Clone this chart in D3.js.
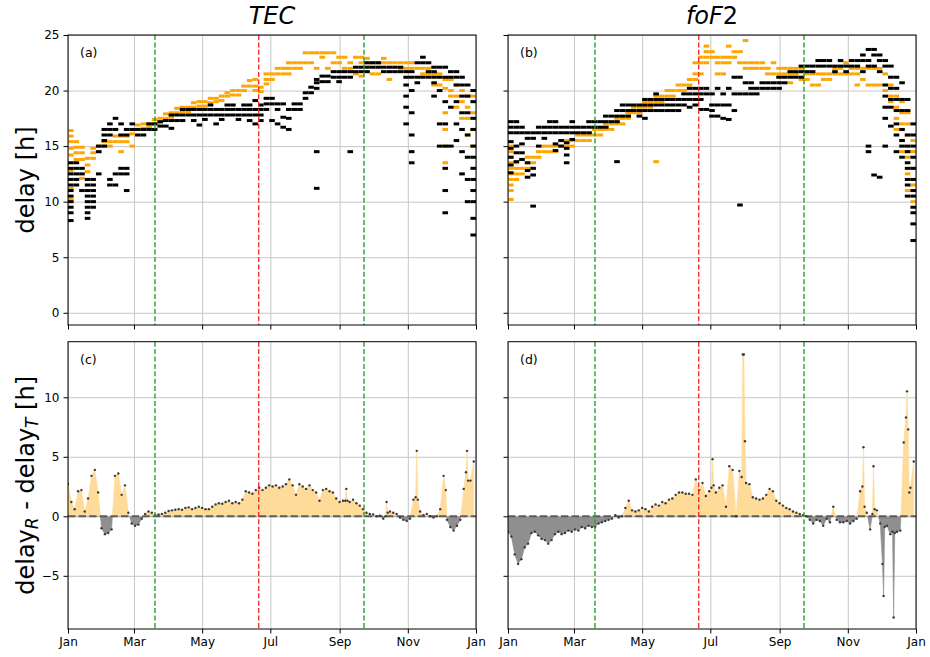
<!DOCTYPE html>
<html>
<head>
<meta charset="utf-8">
<script src="https://cdn.jsdelivr.net/npm/d3@7"></script>
<style>
  body { margin: 0; background: #fff; }
  svg { font-family: "DejaVu Sans", sans-serif; }
</style>
</head>
<body>
<svg id="chart"></svg>
<script>
// day of year grids: top panels in 5-day blocks, bottom panels every 3 days
const blockStep = 5
const diffStep = 3

const monthTickDays = [0, 59, 120, 181, 243, 304, 365]
const monthLabels = ['Jan', 'Mar', 'May', 'Jul', 'Sep', 'Nov', 'Jan']
const delayTicks = [0, 5, 10, 15, 20, 25]
const diffTicks = [-5, 0, 5, 10]
const equinoxDays = [77.8, 264.8]
const solsticeDays = [170.6]
const panelTitles = ['TEC', 'foF2']
const panelLetters = ['(a)', '(b)', '(c)', '(d)']

// delay values per 5-day block (orange = R, black = T)
const tecOrange = [
  [16.4, 15.9, 15.4, 14.8, 14.2, 13.5, 12.8, 12.0, 11.2, 10.2], [15.4, 14.9, 14.4, 13.8], [14.9, 14.4, 13.8, 12.1], [13.9, 13.3, 12.7], [14.4, 13.9, 14.8],
  [15.0, 14.5], [15.4, 15.0], [15.4, 15.0], [15.9, 15.4], [15.9, 15.4, 14.5],
  [15.9, 15.4], [16.5, 16.1, 15.0], [16.9, 16.5], [17.0, 16.6], [17.0, 16.7],
  [17.4, 17.0], [17.5, 17.1], [17.9, 17.5], [18.0, 17.6], [18.4, 18.0],
  [18.5, 18.1], [18.5, 18.1], [18.9, 18.5], [19.0, 18.6], [19.0, 18.6],
  [19.3, 18.9], [19.3, 19.0], [19.5, 19.1], [19.8, 19.5], [20.0, 19.6],
  [20.0, 19.6], [20.4, 20.0], [20.9, 20.4], [21.0, 20.4, 20.0], [20.3, 19.9],
  [21.5, 21.0, 20.6], [21.5, 21.0], [22.0, 21.5], [22.0, 21.5], [22.5, 22.0, 21.5],
  [22.5, 22.0], [22.5, 22.0], [23.4, 22.5], [23.4, 22.5], [23.4, 22.0],
  [23.4, 23.0], [23.4, 22.0], [23.4, 22.5], [23.0, 22.5], [23.0, 22.0],
  [22.5, 22.0], [23.0, 21.5], [23.0, 22.5, 21.3], [22.9, 22.5], [22.5, 21.5],
  [22.5, 21.5], [22.9, 22.5], [22.5, 21.0], [22.5], [22.5, 22.0],
  [22.5, 22.0], [22.5, 22.0], [22.0], [22.0, 21.5], [22.0, 21.5],
  [21.5, 20.5], [21.5, 20.5], [21.0, 20.2, 18.0, 16.5, 15.0, 13.5], [21.0, 20.0, 19.5], [20.5, 19.5, 18.5],
  [20.0, 19.0, 17.5], [19.5, 18.5, 17.5, 16.0], [19.5, 18.0, 16.5, 15.0]
]
const tecBlack = [
  [13.5, 13.0, 12.5, 12.0, 11.5, 11.0, 10.5, 10.0, 9.5, 9.0, 8.3], [13.5, 13.0, 12.5, 12.0, 11.5], [13.0, 12.5, 11.0], [12.0, 11.5, 11.0, 10.5, 10.0, 9.5, 9.0, 8.5], [12.0, 11.5, 11.0, 10.5, 10.0, 9.5],
  [15.0, 14.5, 12.5], [16.5, 16.0, 15.5, 15.0], [17.0, 16.5, 16.0, 12.0, 11.5], [17.5, 16.5, 12.5, 11.5], [17.0, 16.0, 13.0, 12.5],
  [16.5, 16.0, 13.0, 12.5, 11.0], [17.0, 16.5], [16.5, 16.0], [16.5, 16.0], [17.0, 16.5],
  [17.0, 16.5], [17.2, 16.8], [17.3, 16.8], [17.8, 17.3, 16.6], [17.8, 17.3],
  [18.3, 17.8, 17.3], [18.3, 17.8], [18.3, 17.8, 17.3], [18.3, 17.8, 16.9], [18.3, 17.8, 17.4],
  [18.7, 18.3, 17.8], [18.3, 17.8, 17.0], [18.3, 17.8, 17.4], [18.7, 18.3, 17.8], [18.7, 18.3, 17.8],
  [18.3, 17.8, 17.4], [18.7, 18.3, 17.8], [18.7, 18.3, 17.8, 17.3], [19.1, 18.3, 17.8, 17.0], [18.7, 18.3, 17.8, 17.3],
  [19.3, 18.8, 18.3], [19.3, 18.8, 17.3], [18.8, 18.3, 17.0], [18.8, 17.6, 16.7], [18.3, 17.5, 16.5],
  [18.8, 18.3], [18.8, 18.3], [19.8, 19.3], [20.3, 19.8], [21.0, 20.7, 20.2, 14.5, 11.2],
  [21.3, 20.8], [21.3, 20.8], [21.7, 21.2], [21.7, 21.2, 20.8], [21.7, 21.2],
  [21.7, 21.2, 14.5], [22.1, 21.7], [22.1, 21.7], [22.5, 22.1, 21.7], [22.5, 22.1],
  [22.5, 22.1], [22.1, 21.7], [22.1, 21.7], [22.1, 21.7], [22.1, 21.7],
  [21.7, 21.2, 20.5, 19.5, 18.5, 17.0], [21.7, 21.2, 20.0, 18.0, 16.0, 14.5, 13.5], [22.5, 21.2, 20.7], [23.0, 22.5, 21.2], [22.5, 21.7, 21.2],
  [22.1, 21.7, 21.2, 20.7, 19.5], [22.1, 21.2, 20.0, 17.0, 15.0], [22.1, 21.2, 19.0, 17.0, 15.0, 13.0, 11.0, 9.0], [21.7, 21.2, 18.5, 15.0], [21.7, 21.2, 20.5, 19.0, 17.0, 15.5],
  [21.2, 20.5, 19.5, 18.0, 16.5, 14.5, 12.5], [20.5, 19.5, 18.0, 16.0, 14.0, 12.0, 10.0], [20.0, 19.0, 17.5, 16.5, 15.0, 14.0, 13.0, 12.0, 11.0, 10.0, 8.5, 7.0]
]
const fofOrange = [
  [15.0, 14.5, 14.0, 13.5, 13.0, 12.5, 12.0, 11.5, 11.0, 10.2], [13.5, 13.0, 12.5, 12.0], [13.0, 12.5], [14.0, 13.5, 13.0], [14.0, 13.5],
  [14.5, 14.0], [15.0, 14.5], [15.0, 14.5], [15.0, 14.5], [15.5, 15.0],
  [15.5, 15.0], [15.5, 15.0], [16.0, 15.5], [16.0, 15.5], [16.0, 15.5],
  [16.5, 16.0], [16.5, 16.0], [17.0, 16.5], [17.0, 16.5], [17.5, 17.0],
  [17.5, 17.0], [18.0, 17.5], [18.5, 18.0], [18.5, 18.0], [19.0, 18.5],
  [19.0, 18.5], [19.5, 19.0, 13.6], [19.5, 19.0], [20.0, 19.5], [20.0, 19.5],
  [20.5, 20.0], [20.5, 20.0], [21.0, 20.5], [22.5, 21.5, 21.0], [23.0, 22.5, 21.5],
  [24.0, 23.5, 23.0, 22.5], [23.5, 23.0], [23.0, 22.5, 21.5], [23.0, 22.5, 21.5], [24.0, 23.0, 22.5],
  [23.5, 23.0], [23.5, 22.5], [24.5, 22.5, 22.0], [22.5, 22.0], [22.5, 22.0],
  [22.5, 22.0], [22.0, 21.5], [22.5, 21.5], [22.0, 21.5], [22.0, 21.5],
  [22.0, 21.5, 20.7], [22.0, 21.5], [22.0, 21.0], [21.5, 21.0], [21.5, 20.5],
  [21.5, 20.5], [21.5, 21.0], [21.5, 21.0], [22.0, 21.5], [22.0, 21.5],
  [22.5, 21.5], [22.0, 21.5], [22.0, 21.5, 20.5], [22.0, 21.0], [22.0, 20.5],
  [22.0, 20.5], [22.0, 20.5], [21.5, 20.0], [20.5, 19.5, 19.0], [19.5, 18.5, 17.5, 16.5],
  [19.0, 18.0, 17.0, 15.5, 14.5], [18.0, 17.0, 16.0, 14.5, 14.0, 12.5, 11.0], [15.5, 14.5, 13.0, 12.0, 11.5, 10.0]
]
const fofBlack = [
  [17.2, 16.7, 16.2, 15.4, 14.8, 14.0, 13.3, 12.6], [17.2, 16.7, 16.2, 15.0, 14.4, 13.6], [16.7, 16.2, 15.2, 14.4, 13.8], [16.2, 15.7, 13.5, 12.8, 12.2], [16.2, 15.7, 13.0, 12.4, 9.6],
  [16.7, 16.2, 15.0], [16.7, 16.2, 15.7], [17.2, 16.7, 16.2], [17.2, 16.7, 16.2, 15.2, 14.6], [16.7, 16.2, 15.5, 15.0],
  [16.7, 16.2, 15.3, 14.8, 14.2, 13.5], [17.2, 16.7, 16.2, 15.6], [16.7, 16.2], [16.7, 16.2], [17.2, 16.7, 16.2],
  [17.2, 16.7], [17.2, 16.7], [17.7, 17.2, 16.7], [17.7, 17.2], [18.2, 17.7, 17.2, 13.6],
  [18.7, 18.2, 17.7], [18.7, 18.2, 17.7], [18.7, 18.2], [18.7, 18.2, 17.7], [19.2, 18.7, 18.2, 17.5],
  [19.2, 18.7, 18.2], [19.7, 19.2, 18.7, 18.2], [19.2, 18.7, 18.2], [19.2, 18.7, 18.2], [19.2, 18.7, 18.2],
  [19.2, 18.7, 18.2], [19.7, 19.2, 18.7], [20.2, 19.7, 19.2, 18.5], [20.2, 19.7, 19.2, 18.7], [20.2, 19.7, 19.2, 18.3],
  [20.2, 19.7, 18.3], [19.7, 18.7, 18.2, 17.7], [20.2, 18.7, 17.7], [19.7, 18.7, 17.5], [20.2, 18.7, 17.4],
  [21.2, 19.7, 18.2], [21.2, 19.7, 9.7], [20.7, 19.7], [20.7, 20.2, 19.7], [20.2, 19.7],
  [20.7, 20.2], [20.7, 20.2], [20.7, 20.2], [21.2, 20.7, 20.2], [21.2, 20.7],
  [21.7, 21.2], [21.7, 21.2], [22.2, 21.7, 21.2], [22.2, 21.7], [22.2, 21.7],
  [22.7, 22.2], [22.7, 22.2], [22.7, 22.2], [22.2, 21.7], [22.7, 22.2],
  [22.2, 21.7], [22.7, 22.2], [22.7, 22.2], [23.2, 22.7, 21.7], [23.7, 22.7, 22.2, 15.0, 14.5],
  [23.7, 23.2, 22.2, 12.4], [23.2, 22.7, 21.7, 12.2], [22.7, 22.2, 20.5, 19.5, 18.5, 17.5, 15.0], [22.2, 21.2, 20.2, 19.2, 18.5, 16.8], [21.2, 20.2, 19.2, 18.2, 17.0, 16.0, 14.5],
  [20.7, 19.2, 18.2, 16.5, 15.5, 15.0, 14.0], [19.2, 18.2, 16.0, 15.0, 14.5, 13.5, 13.0, 12.0, 11.5, 10.5], [17.0, 16.0, 15.0, 14.0, 13.0, 12.0, 11.0, 10.5, 9.5, 9.0, 8.0, 6.5]
]

// delay_R - delay_T, every 3 days
const tecDiff = [
  2.7, 1.2, 0.6, 2.1, 2.2, 0.4, 1.5, 3.4, 3.9, 2.0,
  -1.0, -1.5, -1.4, -1.1, 3.4, 3.6, 1.8, 2.6, 0.3, -0.6,
  -0.8, -0.7, -0.2, 0.2, 0.4, 0.3, 0.1, 0.15, 0.2, 0.3,
  0.45, 0.5, 0.55, 0.6, 0.55, 0.7, 0.75, 0.6, 0.7, 0.8,
  0.7, 0.6, 0.6, 0.8, 1.0, 1.1, 1.05, 1.2, 1.3, 1.1,
  1.2, 1.1, 1.4, 2.1, 2.0, 1.9, 2.2, 2.4, 2.2, 2.4,
  2.6, 2.5, 2.6, 2.4, 2.5, 2.7, 3.1, 2.6, 1.8, 2.7,
  2.5, 2.3, 2.6, 2.2, 2.0, 1.3, 2.2, 2.3, 2.1, 2.0,
  1.5, 1.2, 1.3, 2.3, 1.2, 1.4, 1.1, 0.9, 0.6, 0.3,
  0.2, 0.15, 0.0, 0.05, -0.2, 1.2, 0.4, 0.3, 0.2, -0.1,
  -0.3, -0.4, -0.2, 1.4, 5.5, 0.4, 0.1, 0.2, 0.0, -0.1,
  0.0, 0.6, 3.4, -0.3, -0.9, -1.2, -0.8, -0.3, 2.3, 5.5,
  3.0, 4.6
]
const fofDiff = [
  -1.3, -1.7, -3.2, -4.0, -3.6, -2.6, -2.3, -1.4, -1.3, -1.6,
  -1.9, -2.0, -2.3, -2.0, -1.5, -1.3, -1.5, -1.4, -1.2, -1.3,
  -1.1, -1.2, -0.9, -1.0, -0.8, -0.9, -0.9, -0.6, -0.5, -0.4,
  -0.3, -0.2, 0.1, -0.1, 0.0, 0.7, 1.3, 0.5, 0.4, 0.5,
  0.7, 0.6, 0.4, 0.8, 1.0, 0.9, 1.2, 1.1, 1.4, 1.5,
  1.8, 2.0, 2.0, 1.9, 1.9, 1.8, 3.1, 2.2, 2.8, 1.7,
  2.1, 4.8, 2.0, 2.4, 2.6, 0.8, 4.2, 3.9, 0.0, 3.8,
  13.6, 2.8, 2.7, 1.6, 1.5, 1.4, 1.5, 1.8, 2.3, 2.1,
  1.3, 1.1, 0.9, 0.7, 0.6, 0.4, 0.3, 0.2, 0.1, 0.0,
  -0.3, -0.6, -0.3, -0.4, -0.8, -0.2, -0.5, 0.8, -0.3, -0.5,
  -0.5, -0.4, -0.6, -0.4, -0.2, 2.1, 5.8, 0.3, -1.1, 4.2,
  0.5, -0.6, -6.7, -0.8, -1.5, -8.5, -1.3, -1.2, 6.2, 10.5,
  2.4, 4.6
]
// extra daily readings [day, value] around the narrow spikes
const tecDiffExtra = [
  [248, 1.3], [250, 1.3], [284, 0.0], [286, 0.3], [311, 1.6], [313, 1.4],
  [338, 2.2], [356, 3.7], [358, 3.0]
]
const fofDiffExtra = [
  [182, 2.4], [184, 2.6], [209, 3.3], [211, 13.6], [212, 6.3],
  [317, 2.5], [319, 0.8], [326, 0.2], [328, 0.6],
  [335, -4.0], [337, -0.9], [344, -1.3], [346, -1.4],
  [356, 8.3], [358, 7.3], [359, 2.0]
]

// layout
const w = 930
const h = 657
const cols = [{ x0: 68, x1: 476 }, { x0: 508, x1: 916 }]
const rows = [{ y0: 35, y1: 325 }, { y0: 341.7, y1: 629 }]

const svg = d3.select('#chart')
  .attr('width', w)
  .attr('height', h)

const defs = svg.append('defs')

const gridColor = '#c6c6c6'
const orange = '#ffa500'
const fillOrange = '#ffdb99'
const fillGray = '#8f8f8f'

const makePanel = (ci, ri, id) => {
  const c = cols[ci]
  const r = rows[ri]
  const x = d3.scaleLinear().domain([0, 365]).range([c.x0, c.x1])
  const y = ri === 0
    ? d3.scaleLinear().domain([-1.1, 25]).range([r.y1, r.y0])
    : d3.scaleLinear().domain([-9.47, 14.67]).range([r.y1, r.y0])
  const g = svg.append('g')

  defs.append('clipPath').attr('id', 'clip' + id)
    .append('rect')
    .attr('x', c.x0).attr('y', r.y0)
    .attr('width', c.x1 - c.x0).attr('height', r.y1 - r.y0)

  // grid
  g.append('g')
    .attr('transform', `translate(0, ${r.y1})`)
    .call(d3.axisBottom(x).tickValues(monthTickDays).tickSize(-(r.y1 - r.y0)).tickFormat(''))
    .call(s => s.select('.domain').remove())
    .selectAll('line').attr('stroke', gridColor).attr('stroke-width', 1)

  g.append('g')
    .attr('transform', `translate(${c.x0}, 0)`)
    .call(d3.axisLeft(y).tickValues(ri === 0 ? delayTicks : diffTicks).tickSize(-(c.x1 - c.x0)).tickFormat(''))
    .call(s => s.select('.domain').remove())
    .selectAll('line').attr('stroke', gridColor).attr('stroke-width', 1)

  const plot = g.append('g').attr('clip-path', `url(#clip${id})`)
  return { g, plot, x, y, c, r }
}

const drawAxes = (p, ci, ri) => {
  const { g, x, y, c, r } = p
  const xa = d3.axisBottom(x).tickValues(monthTickDays).tickSize(4.5).tickPadding(4)
    .tickFormat((d, i) => ri === 1 ? monthLabels[i] : '')
  const ya = d3.axisLeft(y).tickValues(ri === 0 ? delayTicks : diffTicks).tickSize(4.5).tickPadding(4)
    .tickFormat(d => ci === 0 ? (d < 0 ? '\u2212' + Math.abs(d) : d) : '')

  g.append('g')
    .attr('transform', `translate(0, ${r.y1})`)
    .call(xa)
    .call(s => s.select('.domain').remove())
    .call(s => s.selectAll('text').attr('font-size', 12).attr('font-family', 'DejaVu Sans').attr('fill', '#000'))

  g.append('g')
    .attr('transform', `translate(${c.x0}, 0)`)
    .call(ya)
    .call(s => s.select('.domain').remove())
    .call(s => s.selectAll('text').attr('font-size', 12).attr('font-family', 'DejaVu Sans').attr('fill', '#000'))

  g.append('rect')
    .attr('x', c.x0).attr('y', r.y0)
    .attr('width', c.x1 - c.x0).attr('height', r.y1 - r.y0)
    .attr('fill', 'none')
    .attr('stroke', '#000')
    .attr('stroke-width', 1)
}

const drawSeasonLines = (p) => {
  const { plot, x, r } = p
  plot.selectAll('.eq')
    .data(equinoxDays)
    .enter()
    .append('line')
    .attr('x1', d => x(d)).attr('x2', d => x(d))
    .attr('y1', r.y0).attr('y2', r.y1)
    .attr('stroke', '#2ca02c')
    .attr('stroke-width', 1.4)
    .attr('stroke-dasharray', '5,2.4')
  plot.selectAll('.sol')
    .data(solsticeDays)
    .enter()
    .append('line')
    .attr('x1', d => x(d)).attr('x2', d => x(d))
    .attr('y1', r.y0).attr('y2', r.y1)
    .attr('stroke', '#f53030')
    .attr('stroke-width', 1.4)
    .attr('stroke-dasharray', '5,2.4')
}

const drawDelays = (p, series, color) => {
  const { plot, x, y } = p
  const pts = []
  series.forEach((vals, i) => {
    vals.forEach(v => pts.push({ day: i * blockStep, v }))
  })
  plot.append('g')
    .selectAll('rect')
    .data(pts)
    .enter()
    .append('rect')
    .attr('x', d => x(d.day))
    .attr('y', d => y(d.v) - 1.5)
    .attr('width', d => x(d.day + blockStep) - x(d.day))
    .attr('height', 3)
    .attr('fill', color)
}

const drawDiff = (p, series, extra, id) => {
  const { plot, x, y, c, r } = p
  const pts = series.map((v, i) => ({ day: i * diffStep, v }))
    .concat(extra.map(e => ({ day: e[0], v: e[1] })))
    .sort((a, b) => a.day - b.day)
  const area = d3.area()
    .x(d => x(d.day))
    .y0(y(0))
    .y1(d => y(d.v))

  defs.append('clipPath').attr('id', 'pos' + id)
    .append('rect')
    .attr('x', c.x0).attr('y', r.y0)
    .attr('width', c.x1 - c.x0).attr('height', y(0) - r.y0)
  defs.append('clipPath').attr('id', 'neg' + id)
    .append('rect')
    .attr('x', c.x0).attr('y', y(0))
    .attr('width', c.x1 - c.x0).attr('height', r.y1 - y(0))

  plot.append('path')
    .datum(pts)
    .attr('clip-path', `url(#pos${id})`)
    .attr('d', area)
    .attr('fill', fillOrange)
    .attr('stroke', fillOrange)
    .attr('stroke-width', 0.6)
  plot.append('path')
    .datum(pts)
    .attr('clip-path', `url(#neg${id})`)
    .attr('d', area)
    .attr('fill', fillGray)
    .attr('stroke', fillGray)
    .attr('stroke-width', 0.6)

  plot.append('line')
    .attr('x1', c.x0).attr('x2', c.x1)
    .attr('y1', y(0)).attr('y2', y(0))
    .attr('stroke', '#5c5c5c')
    .attr('stroke-width', 2)
    .attr('stroke-dasharray', '7.4,3.2')

  plot.append('g')
    .selectAll('circle')
    .data(pts)
    .enter()
    .append('circle')
    .attr('cx', d => x(d.day))
    .attr('cy', d => y(d.v))
    .attr('r', 1.2)
    .attr('fill', '#3a3a3a')
}

const pa = makePanel(0, 0, 'a')
drawDelays(pa, tecOrange, orange)
drawDelays(pa, tecBlack, '#000')
drawSeasonLines(pa)
drawAxes(pa, 0, 0)

const pb = makePanel(1, 0, 'b')
drawDelays(pb, fofOrange, orange)
drawDelays(pb, fofBlack, '#000')
drawSeasonLines(pb)
drawAxes(pb, 1, 0)

const pc = makePanel(0, 1, 'c')
drawDiff(pc, tecDiff, tecDiffExtra, 'c')
drawSeasonLines(pc)
drawAxes(pc, 0, 1)

const pd = makePanel(1, 1, 'd')
drawDiff(pd, fofDiff, fofDiffExtra, 'd')
drawSeasonLines(pd)
drawAxes(pd, 1, 1)

// panel letters
const panels = [pa, pb, pc, pd]
panels.forEach((p, i) => {
  svg.append('text')
    .attr('x', p.c.x0 + 12)
    .attr('y', p.r.y0 + 22)
    .attr('font-size', 12.5)
    .text(panelLetters[i])
})

// titles
svg.append('text')
  .attr('x', (cols[0].x0 + cols[0].x1) / 2)
  .attr('y', 24)
  .attr('text-anchor', 'middle')
  .attr('font-size', 24)
  .attr('font-style', 'italic')
  .text(panelTitles[0])

const t2 = svg.append('text')
  .attr('x', (cols[1].x0 + cols[1].x1) / 2)
  .attr('y', 24)
  .attr('text-anchor', 'middle')
  .attr('font-size', 24)
t2.append('tspan').attr('font-style', 'italic').text('foF')
t2.append('tspan').text('2')

// y labels
svg.append('text')
  .attr('transform', `translate(34, ${(rows[0].y0 + rows[0].y1) / 2}) rotate(-90)`)
  .attr('text-anchor', 'middle')
  .attr('font-size', 24)
  .text('delay [h]')

const yl = svg.append('text')
  .attr('transform', `translate(34, ${(rows[1].y0 + rows[1].y1) / 2}) rotate(-90)`)
  .attr('text-anchor', 'middle')
  .attr('font-size', 24)
yl.append('tspan').text('delay')
yl.append('tspan').attr('font-size', 17).attr('font-style', 'italic').attr('dy', 4).text('R')
yl.append('tspan').attr('dy', -4).text(' - delay')
yl.append('tspan').attr('font-size', 17).attr('font-style', 'italic').attr('dy', 4).text('T')
yl.append('tspan').attr('dy', -4).text(' [h]')
</script>
</body>
</html>
